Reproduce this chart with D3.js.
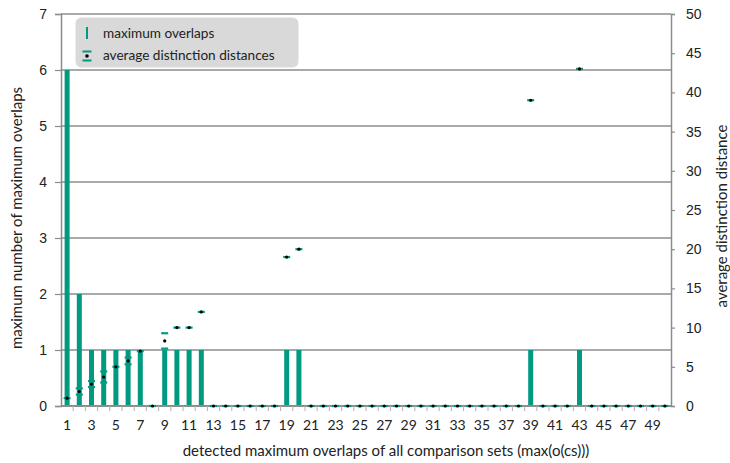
<!DOCTYPE html>
<html>
<head>
<meta charset="utf-8">
<script src="https://cdn.jsdelivr.net/npm/d3@7"></script>
<style>
  html, body { margin: 0; padding: 0; background: #fff; }
  svg { display: block; font-family: Lato, "Open Sans", sans-serif; }
</style>
</head>
<body>
<svg id="chart" width="730" height="463"></svg>
<script>
// Detected maximum overlap classes (x categories)
const categories = [1,2,3,4,5,6,7,8,9,10,11,12,13,14,15,16,17,18,19,20,
  21,22,23,24,25,26,27,28,29,30,31,32,33,34,35,36,37,38,39,40,
  41,42,43,44,45,46,47,48,49,50];

// Maximum number of maximum overlaps (left axis)
const maxOverlaps = [6,2,1,1,1,1,1,0,1,1,1,1,0,0,0,0,0,0,1,1,
  0,0,0,0,0,0,0,0,0,0,0,0,0,0,0,0,0,0,1,0,
  0,0,1,0,0,0,0,0,0,0];

// Average distinction distance (right axis) and its spread
const avgDistance = [1,1.85,2.8,3.7,5,5.75,7,0,8.3,10,10,12,0,0,0,0,0,0,19,20,
  0,0,0,0,0,0,0,0,0,0,0,0,0,0,0,0,0,0,39,0,
  0,0,43,0,0,0,0,0,0,0];
const avgError = [0,0.4,0.38,0.7,0,0.43,0,0,0.98,0,0,0,0,0,0,0,0,0,0,0,
  0,0,0,0,0,0,0,0,0,0,0,0,0,0,0,0,0,0,0,0,
  0,0,0,0,0,0,0,0,0,0];

const leftTicks = [0,1,2,3,4,5,6,7];
const rightTicks = [0,5,10,15,20,25,30,35,40,45,50];
const xTickLabels = categories.filter(c => c % 2 === 1);

const teal = "#009a80";
const grid = "#8c8c8c";

const margin = {left: 61, right: 59, top: 14, bottom: 57};
const W = 730, H = 463;
const svg = d3.select("#chart");

const x = d3.scaleBand().domain(categories).range([margin.left, W - margin.right]).paddingInner(0).paddingOuter(0);
const yL = d3.scaleLinear().domain([0, 7]).range([H - margin.bottom, margin.top]);
const yR = d3.scaleLinear().domain([0, 50]).range([H - margin.bottom, margin.top]);

const x0 = margin.left, x1 = W - margin.right;
const yBase = yL(0);

// horizontal gridlines
svg.append("g").selectAll("line").data(leftTicks.slice(1)).join("line")
  .attr("x1", x0).attr("x2", x1)
  .attr("y1", d => yL(d)).attr("y2", d => yL(d))
  .attr("stroke", grid).attr("stroke-width", 1.5);

// bars
const barW = 5;
svg.append("g").selectAll("rect").data(categories.map((c, i) => ({c, v: maxOverlaps[i]})).filter(d => d.v > 0)).join("rect")
  .attr("x", d => x(d.c) + x.bandwidth() / 2 - barW / 2)
  .attr("width", barW)
  .attr("y", d => yL(d.v))
  .attr("height", d => yBase - yL(d.v))
  .attr("fill", teal);

// left axis
const axL = svg.append("g").attr("transform", `translate(${x0},0)`)
  .call(d3.axisLeft(yL).tickValues(leftTicks).tickSize(6).tickPadding(8).tickFormat(d3.format("d")));
axL.select(".domain").attr("stroke", grid).attr("stroke-width", 1.5);
axL.selectAll(".tick line").attr("stroke", grid).attr("stroke-width", 1.2);
axL.selectAll("text").attr("font-size", 14).attr("fill", "#222");

// right axis
const axR = svg.append("g").attr("transform", `translate(${x1},0)`)
  .call(d3.axisRight(yR).tickValues(rightTicks).tickSize(4).tickPadding(11).tickFormat(d3.format("d")));
axR.select(".domain").attr("stroke", grid).attr("stroke-width", 1.5);
axR.selectAll(".tick line").attr("stroke", grid).attr("stroke-width", 1.2);
axR.selectAll("text").attr("font-size", 14).attr("fill", "#222");

// bottom axis: minor ticks at category boundaries, labels on odd categories
const axB = svg.append("g").attr("transform", `translate(0,${yBase})`);
axB.append("line").attr("x1", x0).attr("x2", x1).attr("y1", 0).attr("y2", 0)
  .attr("stroke", grid).attr("stroke-width", 2);
axB.selectAll("line.mt").data(categories.slice(1)).join("line").attr("class", "mt")
  .attr("x1", d => x(d)).attr("x2", d => x(d)).attr("y1", 0).attr("y2", 5)
  .attr("stroke", "#b0b0b0").attr("stroke-width", 1);
axB.selectAll("text").data(xTickLabels).join("text")
  .attr("x", d => x(d) + x.bandwidth() / 2)
  .attr("y", 24)
  .attr("text-anchor", "middle")
  .attr("font-size", 14).attr("fill", "#222")
  .text(d => d);

// average distinction distance markers with caps
const pts = categories.map((c, i) => ({c, v: avgDistance[i], e: avgError[i]}));
const capW = 7;
const gE = svg.append("g");
pts.forEach(p => {
  const cx = x(p.c) + x.bandwidth() / 2;
  const caps = p.e > 0 ? [p.v + p.e, p.v - p.e] : [p.v];
  caps.forEach(v => {
    gE.append("line")
      .attr("x1", cx - capW / 2).attr("x2", cx + capW / 2)
      .attr("y1", yR(v)).attr("y2", yR(v))
      .attr("stroke", teal).attr("stroke-width", 2.2);
  });
  gE.append("circle").attr("cx", cx).attr("cy", yR(p.v)).attr("r", 1.6).attr("fill", "#000");
});

// axis titles
svg.append("text")
  .attr("transform", `translate(22,${(yL(0) + yL(7)) / 2 + 8}) rotate(-90)`)
  .attr("text-anchor", "middle").attr("font-size", 15).attr("fill", "#222")
  .text("maximum number of maximum overlaps");
svg.append("text")
  .attr("transform", `translate(727,${(yR(0) + yR(50)) / 2 + 6}) rotate(-90)`)
  .attr("text-anchor", "middle").attr("font-size", 15).attr("fill", "#222")
  .text("average distinction distance");
svg.append("text")
  .attr("x", (x0 + x1) / 2 + 20).attr("y", 456)
  .attr("text-anchor", "middle").attr("font-size", 15).attr("fill", "#222")
  .text("detected maximum overlaps of all comparison sets (max(o(cs)))");

// legend
const lg = svg.append("g");
lg.append("rect").attr("x", 75.5).attr("y", 17.5).attr("width", 223).attr("height", 50)
  .attr("rx", 6).attr("fill", "#d9d9d9");
lg.append("line").attr("x1", 87).attr("x2", 87).attr("y1", 27).attr("y2", 39)
  .attr("stroke", teal).attr("stroke-width", 2);
lg.append("line").attr("x1", 82.5).attr("x2", 91.5).attr("y1", 51.5).attr("y2", 51.5)
  .attr("stroke", teal).attr("stroke-width", 2);
lg.append("line").attr("x1", 82.5).attr("x2", 91.5).attr("y1", 60.5).attr("y2", 60.5)
  .attr("stroke", teal).attr("stroke-width", 2);
lg.append("circle").attr("cx", 87).attr("cy", 56).attr("r", 1.8).attr("fill", "#000");
lg.append("text").attr("x", 103).attr("y", 37.5).attr("font-size", 13.6).attr("fill", "#222")
  .text("maximum overlaps");
lg.append("text").attr("x", 103).attr("y", 59.5).attr("font-size", 13.6).attr("fill", "#222")
  .text("average distinction distances");
</script>
</body>
</html>
